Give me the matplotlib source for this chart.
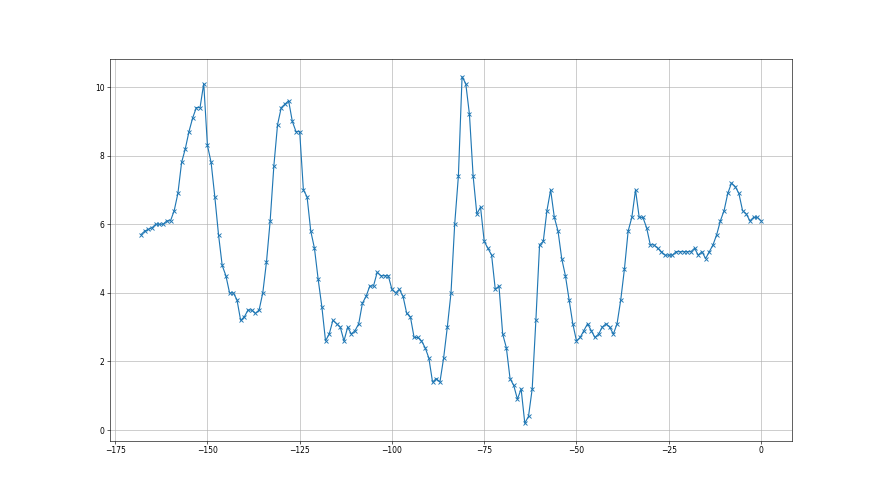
import matplotlib
matplotlib.use("Agg")
import matplotlib.pyplot as plt
import numpy as np

# values, one per step from -168 to 0
values = [
	5.7, 5.8, 5.85, 5.9, 6.0, 6.0, 6.0, 6.1, 6.1, 6.4,
	6.9, 7.8, 8.2, 8.7, 9.1, 9.4, 9.4, 10.1, 8.3, 7.8,
	6.8, 5.7, 4.8, 4.5, 4.0, 4.0, 3.8, 3.2, 3.3, 3.5,
	3.5, 3.4, 3.5, 4.0, 4.9, 6.1, 7.7, 8.9, 9.4, 9.5,
	9.6, 9.0, 8.7, 8.7, 7.0, 6.8, 5.8, 5.3, 4.4, 3.6,
	2.6, 2.8, 3.2, 3.1, 3.0, 2.6, 3.0, 2.8, 2.9, 3.1,
	3.7, 3.9, 4.2, 4.2, 4.6, 4.5, 4.5, 4.5, 4.1, 4.0,
	4.1, 3.9, 3.4, 3.3, 2.7, 2.7, 2.6, 2.4, 2.1, 1.4,
	1.5, 1.4, 2.1, 3.0, 4.0, 6.0, 7.4, 10.3, 10.1, 9.2,
	7.4, 6.3, 6.5, 5.5, 5.3, 5.1, 4.1, 4.2, 2.8, 2.4,
	1.5, 1.3, 0.9, 1.2, 0.2, 0.4, 1.2, 3.2, 5.4, 5.5,
	6.4, 7.0, 6.2, 5.8, 5.0, 4.5, 3.8, 3.1, 2.6, 2.7,
	2.9, 3.1, 2.9, 2.7, 2.8, 3.0, 3.1, 3.0, 2.8, 3.1,
	3.8, 4.7, 5.8, 6.2, 7.0, 6.2, 6.2, 5.9, 5.4, 5.4,
	5.3, 5.2, 5.1, 5.1, 5.1, 5.2, 5.2, 5.2, 5.2, 5.2,
	5.3, 5.1, 5.2, 5.0, 5.2, 5.4, 5.7, 6.1, 6.4, 6.9,
	7.2, 7.1, 6.9, 6.4, 6.3, 6.1, 6.2, 6.2, 6.1,
]
steps = np.arange(-len(values) + 1, 1)

if __name__ == "__main__":
	fig = plt.figure(figsize=(16, 9), dpi=55)
	plt.plot(steps, values, marker="x", markersize=6, markeredgewidth=1.2)
	plt.grid(True)
	plt.savefig("out.png", dpi=55)
	plt.close()
